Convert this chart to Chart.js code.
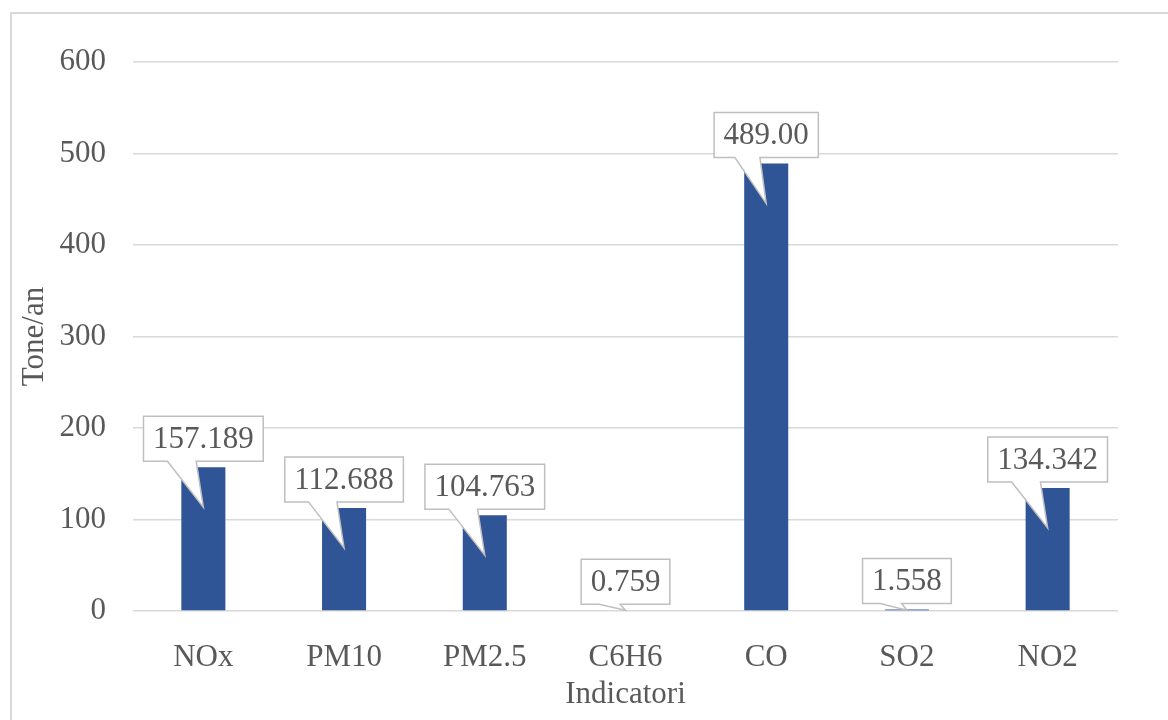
<!DOCTYPE html>
<html>
<head>
<meta charset="utf-8">
<script src="https://cdn.jsdelivr.net/npm/chart.js@4/dist/chart.umd.min.js"></script>
<style>
  html, body { margin: 0; padding: 0; background: #fff; overflow: hidden; }
  #wrap { position: relative; width: 1168px; height: 720px; }
  #frame { position: absolute; left: 10px; top: 12px; width: 1200px; height: 800px;
           border: 2px solid #d9d9d9; box-sizing: border-box; }
  #chart { position: absolute; left: 0; top: 0; }
</style>
</head>
<body>
<div id="wrap">
  <div id="frame"></div>
  <canvas id="chart" width="1168" height="720"></canvas>
</div>
<script>
// date grafic
const categories = ['NOx', 'PM10', 'PM2.5', 'C6H6', 'CO', 'SO2', 'NO2'];
const values = [157.189, 112.688, 104.763, 0.759, 489.00, 1.558, 134.342];
const labelText = ['157.189', '112.688', '104.763', '0.759', '489.00', '1.558', '134.342'];
const yTicks = [0, 100, 200, 300, 400, 500, 600];

const FONT = '"Liberation Serif", "Times New Roman", serif';
const TEXT = '#595959';

// etichete tip "callout" ca in Excel
const calloutPlugin = {
  id: 'callouts',
  afterDatasetsDraw(chart) {
    const ctx = chart.ctx;
    const meta = chart.getDatasetMeta(0);
    ctx.save();
    ctx.font = '31px ' + FONT;
    meta.data.forEach((bar, i) => {
      const text = labelText[i];
      const tw = ctx.measureText(text).width;
      const w = tw + 19;
      const h = 45;
      const cx = bar.x;
      const bottom = bar.y - 6;
      const top = bottom - h;
      const left = cx - w / 2;
      const tipY = Math.min(bar.y + 40, bar.base);
      const tipX = cx;
      const b1 = cx - w * 0.3;
      const b2 = cx - w * 0.06;

      ctx.beginPath();
      ctx.moveTo(left, top);
      ctx.lineTo(left + w, top);
      ctx.lineTo(left + w, bottom);
      ctx.lineTo(b2, bottom);
      ctx.lineTo(tipX, tipY);
      ctx.lineTo(b1, bottom);
      ctx.lineTo(left, bottom);
      ctx.closePath();
      ctx.fillStyle = '#ffffff';
      ctx.fill();
      ctx.lineWidth = 1.5;
      ctx.strokeStyle = '#bfbfbf';
      ctx.stroke();

      ctx.fillStyle = TEXT;
      ctx.textAlign = 'center';
      ctx.textBaseline = 'middle';
      ctx.fillText(text, cx, top + h / 2 + 1);
    });
    ctx.restore();
  }
};

const ctx = document.getElementById('chart').getContext('2d');
new Chart(ctx, {
  type: 'bar',
  data: {
    labels: categories,
    datasets: [{
      data: values,
      backgroundColor: '#2f5597',
      borderWidth: 0,
      categoryPercentage: 1,
      barPercentage: 0.313
    }]
  },
  options: {
    responsive: false,
    animation: false,
    layout: { padding: { left: 12, top: 62, right: 50, bottom: 0 } },
    plugins: {
      legend: { display: false },
      tooltip: { enabled: false }
    },
    scales: {
      x: {
        grid: { display: false },
        border: { display: false },
        ticks: { color: TEXT, font: { family: FONT, size: 31 }, padding: 20 },
        title: {
          display: true,
          text: 'Indicatori',
          color: TEXT,
          font: { family: FONT, size: 31 },
          padding: { top: 0, bottom: 7 }
        },
        afterFit(scale) { scale.height = 109; }
      },
      y: {
        min: 0,
        max: 600,
        afterBuildTicks(scale) { scale.ticks = yTicks.map(v => ({ value: v })); },
        grid: { color: '#d9d9d9', lineWidth: 1.5, drawTicks: false },
        border: { display: false },
        ticks: { color: TEXT, font: { family: FONT, size: 31 }, padding: 27 },
        title: {
          display: true,
          text: 'Tone/an',
          color: TEXT,
          font: { family: FONT, size: 31 },
          padding: { top: 4, bottom: 0 }
        },
        afterFit(scale) { scale.width = 121; }
      }
    }
  },
  plugins: [calloutPlugin]
});
</script>
</body>
</html>
